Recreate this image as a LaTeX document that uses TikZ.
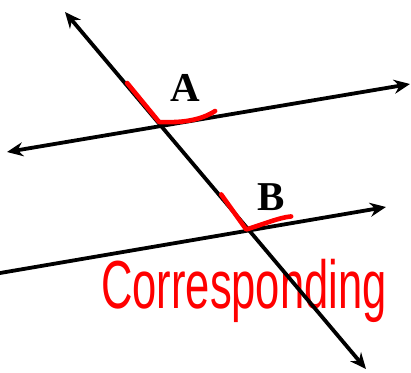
\documentclass[tikz,border=0pt]{standalone}
\usepackage{fontspec}
\setmainfont{Liberation Serif}
\newfontfamily\handfont{Liberation Sans}
\usetikzlibrary{arrows.meta,calc}
\tikzset{
  line/.style={line width=3.8pt},
  tip/.tip={Stealth[length=16pt,width=14pt]},
  anglemark/.style={red, line width=4.6pt, line cap=round, line join=round},
  angle label/.style={font=\fontsize{41}{44}\selectfont\bfseries}
}
\begin{document}
\begin{tikzpicture}[x=1pt,y=-1pt]
      \useasboundingbox (0,0) rectangle (411,372);
      % Nodes
      \coordinate (T1) at (65,12);
      \coordinate (T2) at (366,369);
      \coordinate (U1) at (7,152);
      \coordinate (U2) at (410,84);
      \coordinate (L1) at (-4,273.7);
      \coordinate (L2) at (386,207);
      \coordinate (PA) at (intersection of T1--T2 and U1--U2);
      \coordinate (PB) at (intersection of T1--T2 and L1--L2);
      \node (A) at (185,88) [angle label] {A};
      \node (B) at (271,197) [angle label] {B};
      \node (word) at (101,308) [anchor=base west, inner sep=0pt, text=red]
        {\handfont\fontsize{68}{72}\selectfont\scalebox{0.64}[1]{Corresponding}};

      % Edges
      \draw [line, tip-tip] (T1) -- (T2);
      \draw [line, tip-tip] (U1) -- (U2);
      \draw [line, -tip] (L1) -- (L2);
      \draw [anglemark] ($(PA)+(-34,-43)$) -- ($(PA)+(-2,-4)$) .. controls ($(PA)+(22,-3)$) and ($(PA)+(40,-6)$) .. ($(PA)+(54,-15)$);
      \draw [anglemark] ($(PB)+(-28,-36)$) -- ($(PB)+(-3,-1)$) .. controls ($(PB)+(14,-6)$) and ($(PB)+(30,-13)$) .. ($(PB)+(42,-14)$);
    \end{tikzpicture}
\end{document}
